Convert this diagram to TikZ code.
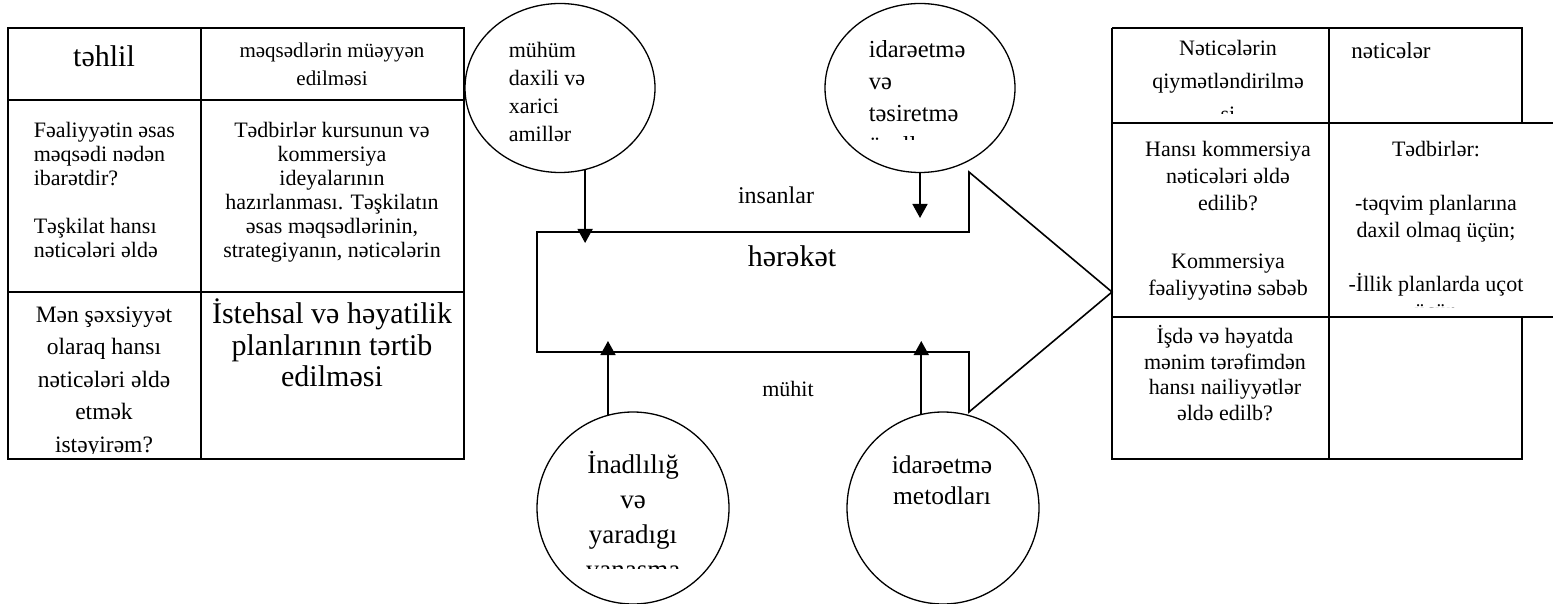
\documentclass[tikz,border=0pt]{standalone}
\usepackage{fontspec}
\setmainfont{Liberation Serif}
\usetikzlibrary{positioning, arrows.meta, shapes.geometric, calc}

\newcommand{\txtsize}[2]{\fontsize{#1}{#2}\selectfont}

\begin{document}
\begin{tikzpicture}[x=1pt, y=-1pt, line width=1.6pt,
    txt/.style={inner sep=0pt, align=center, anchor=north},
    oval/.style={draw, ellipse, line width=1.3pt, minimum width=190pt, minimum height=169pt},
    ring/.style={draw, circle, line width=1.3pt, minimum size=192pt},
    push/.style={-{Triangle[width=15pt, length=14pt]}, line width=1.6pt}]
  \useasboundingbox (0,0) rectangle (1553,604);

  % left table
  \draw (8,28) rectangle (464,459);
  \draw (201,28) -- (201,459);
  \draw (8,100) -- (464,100);
  \draw (8,292) -- (464,292);

  \node[inner sep=0pt, anchor=base, font=\txtsize{30}{33}] (tahlil) at (104,67) {təhlil};
  \node[txt, font=\txtsize{21}{28}] (maqsad) at (332,42) {məqsədlərin müəyyən\\edilməsi};
  \node[txt, align=left, anchor=north west, font=\txtsize{22}{24}] (sual) at (33,121)
    {Fəaliyyətin əsas\\məqsədi nədən\\ibarətdir?\\[24pt]Təşkilat hansı\\nəticələri əldə};
  \node[txt, font=\txtsize{22}{24}] (tadbir) at (332,121)
    {Tədbirlər kursunun və\\kommersiya\\ideyalarının\\hazırlanması. Təşkilatın\\əsas məqsədlərinin,\\strategiyanın, nəticələrin};
  \begin{scope}
    \clip (8,292) rectangle (201,453);
    \node[txt, font=\txtsize{23.5}{32.5}] (shaxs) at (104,306)
      {Mən şəxsiyyət\\olaraq hansı\\nəticələri əldə\\etmək\\istəyirəm?};
  \end{scope}
  \node[txt, font=\txtsize{30}{31.5}] (plan) at (332,298)
    {İstehsal və həyatilik\\planlarının tərtib\\edilməsi};

  % right table
  \draw (1112,28) -- (1522,28) -- (1522,123);
  \draw (1112,28) -- (1112,459) -- (1522,459) -- (1522,317);
  \draw (1329,28) -- (1329,459);
  \draw (1112,123) -- (1553,123);
  \draw (1112,317) -- (1553,317);

  \begin{scope}
    \clip (1112,28) rectangle (1329,114);
    \node[txt, font=\txtsize{22}{33}] (qiymat) at (1228,39)
      {Nəticələrin\\qiymətləndirilmə\\si};
  \end{scope}
  \node[inner sep=0pt, anchor=base, font=\txtsize{23}{26}] (natica) at (1391,59) {nəticələr};
  \node[txt, font=\txtsize{22}{27}] (hansi) at (1228,140)
    {Hansı kommersiya\\nəticələri əldə\\edilib?\\[31pt]Kommersiya\\fəaliyyətinə səbəb};
  \begin{scope}
    \clip (1329,123) rectangle (1553,307);
    \node[txt, font=\txtsize{22}{27}] (tadbirler) at (1436,140)
      {Tədbirlər:\\[27pt]-təqvim planlarına\\daxil olmaq üçün;\\[27pt]-İllik planlarda uçot\\üçün};
  \end{scope}
  \node[txt, font=\txtsize{22}{25.5}] (isde) at (1225,325)
    {İşdə və həyatda\\mənim tərəfimdən\\hansı nailiyyətlər\\əldə edilb?};

  % big arrow
  \draw (537,232) -- (969,232) -- (969,172) -- (1112,292) -- (969,412) -- (969,352) -- (537,352) -- cycle;
  \node[inner sep=0pt, anchor=base, font=\txtsize{24}{26}] (insan) at (776,204) {insanlar};
  \node[inner sep=0pt, anchor=base, font=\txtsize{30}{32}] (harakat) at (792,266) {hərəkət};
  \node[inner sep=0pt, anchor=base, font=\txtsize{22}{24}] (muhit) at (788,396) {mühit};

  % circles
  \node[oval] (amil) at (560,88) {};
  \node[txt, align=left, anchor=north west, font=\txtsize{22}{28}] (amiltxt) at (508,41)
    {mühüm\\daxili və\\xarici\\amillər};
  \node[oval] (tasir) at (920,88) {};
  \begin{scope}
    \clip (820,0) rectangle (1020,140);
    \node[txt, align=left, anchor=north west, font=\txtsize{24.5}{32}] (tasirtxt) at (868,40)
      {idarəetmə\\və\\təsiretmə\\üsulları};
  \end{scope}
  \node[ring] (inad) at (633,508) {};
  \begin{scope}
    \clip (537,413) rectangle (729,568);
    \node[txt, font=\txtsize{27}{35}] (inadtxt) at (633,450)
      {İnadlılığ\\və\\yaradıgı\\yanaşma};
  \end{scope}
  \node[ring] (metod) at (943,508) {};
  \node[txt, font=\txtsize{25.5}{31}] (metodtxt) at (942,455) {idarəetmə\\metodları};

  % influences
  \coordinate (hitA) at (585,243);
  \coordinate (hitB) at (920,218);
  \coordinate (hitC) at (608,341);
  \coordinate (hitD) at (921,341);
  \draw[push] (amil.-73) -- (amil.-73 |- hitA);
  \draw[push] (tasir.south) -- (tasir.south |- hitB);
  \draw[push] (inad.105) -- (inad.105 |- hitC);
  \draw[push] (metod.103) -- (metod.103 |- hitD);
\end{tikzpicture}
\end{document}
